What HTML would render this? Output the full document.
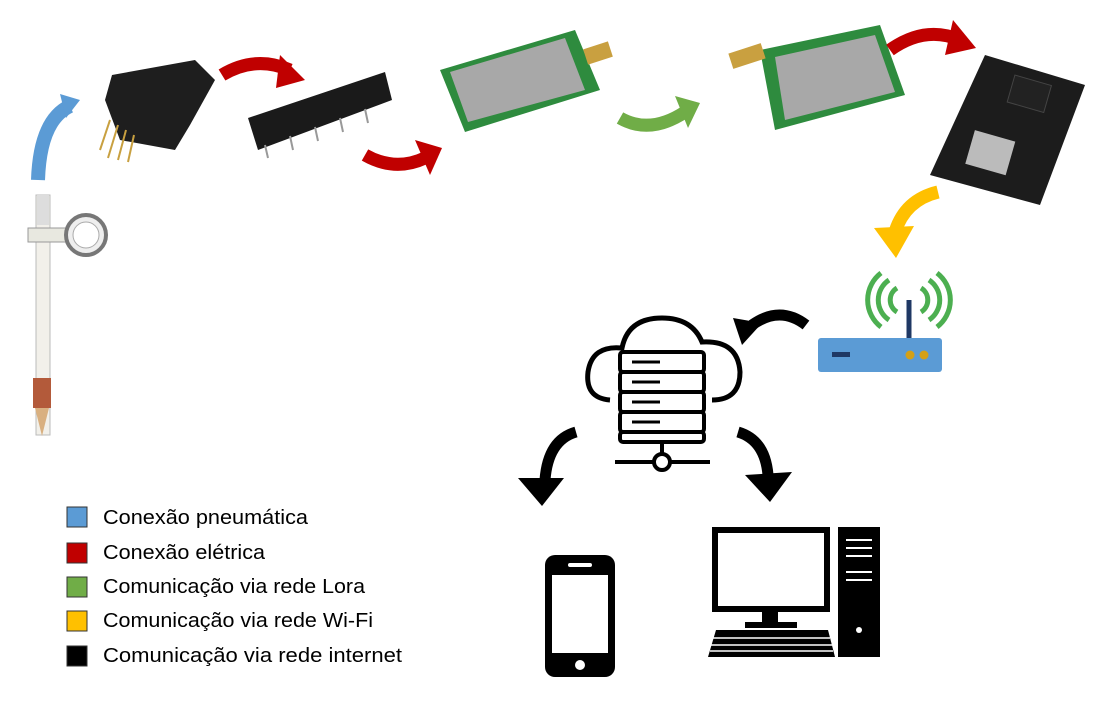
<!DOCTYPE html>
<html><head><meta charset="utf-8"><style>
html,body{margin:0;padding:0;background:#fff;}
svg{display:block}
text{font-family:"Liberation Sans",sans-serif;}
</style></head><body>
<svg width="1099" height="720" viewBox="0 0 1099 720" xmlns="http://www.w3.org/2000/svg">
<!-- tensiometer -->
<rect x="36" y="195" width="14" height="240" fill="#f2f0ea" stroke="#bbb"/>
<rect x="37" y="195" width="12" height="30" fill="#ddd"/>
<rect x="33" y="378" width="18" height="30" fill="#b35a3a"/>
<path d="M35,408 L49,408 L42,436 z" fill="#d9b080"/>
<rect x="28" y="228" width="40" height="14" fill="#e8e8e0" stroke="#999"/>
<circle cx="86" cy="235" r="20" fill="#eee" stroke="#777" stroke-width="4"/>
<circle cx="86" cy="235" r="13" fill="#fff" stroke="#aaa"/>
<!-- blue arrow -->
<path d="M38,180 Q40,120 70,106" fill="none" stroke="#5b9bd5" stroke-width="14"/>
<path d="M60,94 L80,100 L66,118 z" fill="#5b9bd5"/>
<!-- pressure sensor -->
<path d="M112,75 L195,60 L215,80 L190,125 L175,150 L120,140 L105,100 z" fill="#1e1e1e"/>
<g stroke="#c8a040" stroke-width="2"><line x1="110" y1="120" x2="100" y2="150"/><line x1="118" y1="125" x2="108" y2="158"/><line x1="126" y1="130" x2="118" y2="160"/><line x1="134" y1="135" x2="128" y2="162"/></g>
<!-- red arrow 1 -->
<path d="M222,75 Q255,55 290,70" fill="none" stroke="#c00000" stroke-width="13"/>
<path d="M280,55 L305,80 L276,88 z" fill="#c00000"/>
<!-- IC -->
<path d="M248,118 L385,72 L392,100 L258,150 z" fill="#1a1a1a"/>
<g stroke="#999" stroke-width="2"><line x1="265" y1="145" x2="268" y2="158"/><line x1="290" y1="136" x2="293" y2="150"/><line x1="315" y1="127" x2="318" y2="141"/><line x1="340" y1="118" x2="343" y2="132"/><line x1="365" y1="109" x2="368" y2="123"/></g>
<!-- red arrow 2 -->
<path d="M365,155 Q395,172 425,158" fill="none" stroke="#c00000" stroke-width="13"/>
<path d="M415,140 L442,148 L430,175 z" fill="#c00000"/>
<!-- lora 1 -->
<path d="M440,70 L575,30 L600,90 L465,132 z" fill="#2e8b3e"/>
<path d="M450,72 L565,38 L585,90 L468,122 z" fill="#a8a8a8"/>
<rect x="585" y="45" width="26" height="16" fill="#c9a040" transform="rotate(-18 598 53)"/>
<!-- green arrow -->
<path d="M620,118 Q650,135 685,112" fill="none" stroke="#70ad47" stroke-width="13"/>
<path d="M675,96 L700,103 L688,128 z" fill="#70ad47"/>
<!-- lora 2 -->
<path d="M760,50 L880,25 L905,95 L775,130 z" fill="#2e8b3e"/>
<path d="M775,57 L875,35 L895,92 L785,120 z" fill="#a8a8a8"/>
<rect x="730" y="48" width="34" height="16" fill="#c9a040" transform="rotate(-18 747 56)"/>
<!-- red arrow 3 -->
<path d="M890,50 Q925,25 960,40" fill="none" stroke="#c00000" stroke-width="13"/>
<path d="M953,20 L976,48 L945,55 z" fill="#c00000"/>
<!-- nodemcu -->
<path d="M985,55 L1085,85 L1040,205 L930,175 z" fill="#1c1c1c"/>
<rect x="970" y="135" width="42" height="35" fill="#bbb" transform="rotate(16 990 150)"/>
<rect x="1010" y="80" width="38" height="28" fill="#222" stroke="#444" transform="rotate(16 1030 95)"/>
<!-- yellow arrow -->
<path d="M938,192 Q905,200 895,232" fill="none" stroke="#ffc000" stroke-width="13"/>
<path d="M874,228 L896,258 L914,226 z" fill="#ffc000"/>
<!-- router -->
<rect x="818" y="338" width="124" height="34" rx="3" fill="#5b9bd5"/>
<rect x="832" y="352" width="18" height="5" fill="#1f3864"/>
<circle cx="910" cy="355" r="4.5" fill="#d4a017"/><circle cx="924" cy="355" r="4.5" fill="#d4a017"/>
<line x1="909" y1="338" x2="909" y2="300" stroke="#1f3864" stroke-width="5"/>
<g fill="none" stroke="#4caf50" stroke-width="5">
<path d="M897,288 A14,14 0 0 0 897,312"/><path d="M921,288 A14,14 0 0 1 921,312"/>
<path d="M889,280 A24,24 0 0 0 889,320"/><path d="M929,280 A24,24 0 0 1 929,320"/>
<path d="M881,273 A34,34 0 0 0 881,327"/><path d="M937,273 A34,34 0 0 1 937,327"/>
</g>
<!-- black arrow to cloud -->
<path d="M806,325 Q780,305 752,325" fill="none" stroke="#000" stroke-width="11"/>
<path d="M733,318 L742,345 L762,323 z" fill="#000"/>
<!-- cloud -->
<path d="M610,400 Q585,398 588,372 Q592,345 622,348 Q628,318 662,318 Q692,318 702,342 Q738,340 740,372 Q740,400 712,400" fill="none" stroke="#000" stroke-width="5"/>
<g fill="#fff" stroke="#000" stroke-width="4">
<rect x="620" y="352" width="84" height="20" rx="3"/><rect x="620" y="372" width="84" height="20" rx="3"/><rect x="620" y="392" width="84" height="20" rx="3"/><rect x="620" y="412" width="84" height="20" rx="3"/><rect x="620" y="432" width="84" height="10" rx="3"/>
</g>
<g stroke="#000" stroke-width="3"><line x1="632" y1="362" x2="660" y2="362"/><line x1="632" y1="382" x2="660" y2="382"/><line x1="632" y1="402" x2="660" y2="402"/><line x1="632" y1="422" x2="660" y2="422"/></g>
<line x1="662" y1="442" x2="662" y2="455" stroke="#000" stroke-width="4"/>
<line x1="615" y1="462" x2="710" y2="462" stroke="#000" stroke-width="4"/>
<circle cx="662" cy="462" r="8" fill="#fff" stroke="#000" stroke-width="4"/>
<!-- black arrows down -->
<path d="M576,432 Q548,440 545,480" fill="none" stroke="#000" stroke-width="11"/>
<path d="M518,478 L542,506 L564,478 z" fill="#000"/>
<path d="M738,432 Q765,440 768,475" fill="none" stroke="#000" stroke-width="11"/>
<path d="M745,475 L770,502 L792,472 z" fill="#000"/>
<!-- phone -->
<rect x="545" y="555" width="70" height="122" rx="10" fill="#000"/>
<rect x="552" y="575" width="56" height="78" fill="#fff"/>
<rect x="568" y="563" width="24" height="4" rx="2" fill="#fff"/>
<circle cx="580" cy="665" r="5" fill="#fff"/>
<!-- computer -->
<rect x="712" y="527" width="118" height="85" fill="#000"/>
<rect x="718" y="533" width="106" height="73" fill="#fff"/>
<rect x="762" y="612" width="16" height="12" fill="#000"/>
<rect x="745" y="622" width="52" height="6" fill="#000"/>
<rect x="838" y="527" width="42" height="130" fill="#000"/>
<g stroke="#fff" stroke-width="2"><line x1="846" y1="540" x2="872" y2="540"/><line x1="846" y1="548" x2="872" y2="548"/><line x1="846" y1="556" x2="872" y2="556"/><line x1="846" y1="572" x2="872" y2="572"/><line x1="846" y1="580" x2="872" y2="580"/></g>
<circle cx="859" cy="630" r="3" fill="#fff"/>
<path d="M716,630 L828,630 L835,657 L708,657 z" fill="#000"/>
<g stroke="#fff" stroke-width="1.5"><line x1="713" y1="638" x2="830" y2="638"/><line x1="711" y1="645" x2="832" y2="645"/><line x1="710" y1="651" x2="833" y2="651"/></g>
<!-- legend -->
<g stroke="#333" stroke-width="1">
<rect x="67" y="507" width="20" height="20" fill="#5b9bd5"/>
<rect x="67" y="543" width="20" height="20" fill="#c00000"/>
<rect x="67" y="577" width="20" height="20" fill="#70ad47"/>
<rect x="67" y="611" width="20" height="20" fill="#ffc000"/>
<rect x="67" y="646" width="20" height="20" fill="#000"/>
</g>
<g font-size="20" fill="#000">
<text x="103" y="524" textLength="205" lengthAdjust="spacingAndGlyphs">Conexão pneumática</text>
<text x="103" y="559" textLength="162" lengthAdjust="spacingAndGlyphs">Conexão elétrica</text>
<text x="103" y="593" textLength="262" lengthAdjust="spacingAndGlyphs">Comunicação via rede Lora</text>
<text x="103" y="627" textLength="270" lengthAdjust="spacingAndGlyphs">Comunicação via rede Wi-Fi</text>
<text x="103" y="662" textLength="299" lengthAdjust="spacingAndGlyphs">Comunicação via rede internet</text>
</g>
</svg>
</body></html>
